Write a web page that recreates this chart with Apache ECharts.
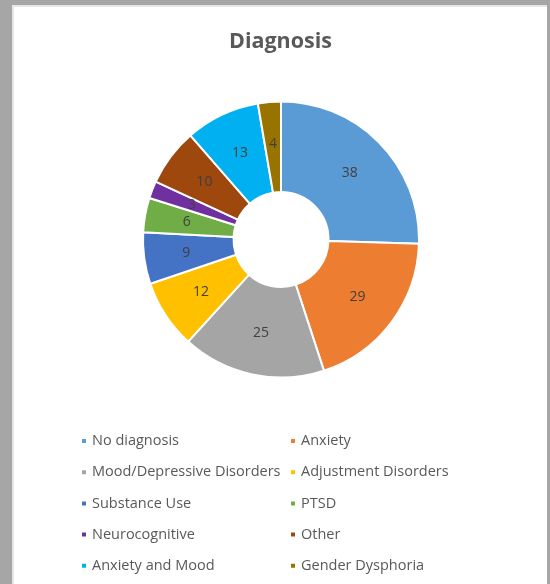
<!DOCTYPE html>
<html>
<head>
<meta charset="utf-8">
<script src="https://cdn.jsdelivr.net/npm/echarts@6/dist/echarts.min.js"></script>
<style>
  html, body { margin: 0; padding: 0; background: #a6a6a6; width: 550px; height: 584px; overflow: hidden; }
  #frame { position: absolute; left: 12px; top: 5px; width: 533px; height: 579px; background: #ffffff; border-left: 2px solid #e6e6e6; border-top: 2px solid #e6e6e6; }
  #chart { position: absolute; left: 0; top: 0; width: 533px; height: 579px; }
</style>
</head>
<body>
<div id="frame"><div id="chart"></div></div>
<script>
const categories = ["No diagnosis", "Anxiety", "Mood/Depressive Disorders", "Adjustment Disorders", "Substance Use", "PTSD", "Neurocognitive", "Other", "Anxiety and Mood", "Gender Dysphoria"];
const values = [38, 29, 25, 12, 9, 6, 3, 10, 13, 4];
const colors = ["#5B9BD5", "#ED7D31", "#A5A5A5", "#FFC000", "#4472C4", "#70AD47", "#7030A0", "#9E480E", "#00B0F0", "#997300"];
const titleText = "Diagnosis";

const leftNames = categories.filter((c, i) => i % 2 === 0);
const rightNames = categories.filter((c, i) => i % 2 === 1);

const legendCommon = {
  orient: 'vertical',
  icon: 'rect',
  itemWidth: 6,
  itemHeight: 6,
  itemGap: 15.2,
  padding: 0,
  top: 426,
  textStyle: { fontFamily: 'Open Sans', fontSize: 14.5, color: '#595959', lineHeight: 16 },
  selectedMode: false
};

const chart = echarts.init(document.getElementById('chart'), null, { renderer: 'canvas' });
chart.setOption({
  animation: false,
  color: colors,
  title: {
    text: titleText,
    left: 'center', top: 19,
    textStyle: { fontFamily: 'Open Sans', fontWeight: 'bold', fontSize: 21.5, color: '#595959' }
  },
  legend: [
    Object.assign({}, legendCommon, { left: 66, data: leftNames }),
    Object.assign({}, legendCommon, { left: 275, data: rightNames })
  ],
  series: [{
    type: 'pie',
    center: [267, 232.5],
    radius: [47.5, 138],
    startAngle: 90,
    clockwise: true,
    avoidLabelOverlap: false,
    labelLayout: { hideOverlap: false },
    itemStyle: { borderColor: '#ffffff', borderWidth: 2 },
    label: {
      show: true,
      position: 'inside',
      formatter: '{c}',
      fontFamily: 'Open Sans',
      fontSize: 14,
      color: '#404040'
    },
    labelLine: { show: false },
    emphasis: { disabled: true },
    data: categories.map((c, i) => ({ name: c, value: values[i] }))
  }]
});
</script>
</body>
</html>
